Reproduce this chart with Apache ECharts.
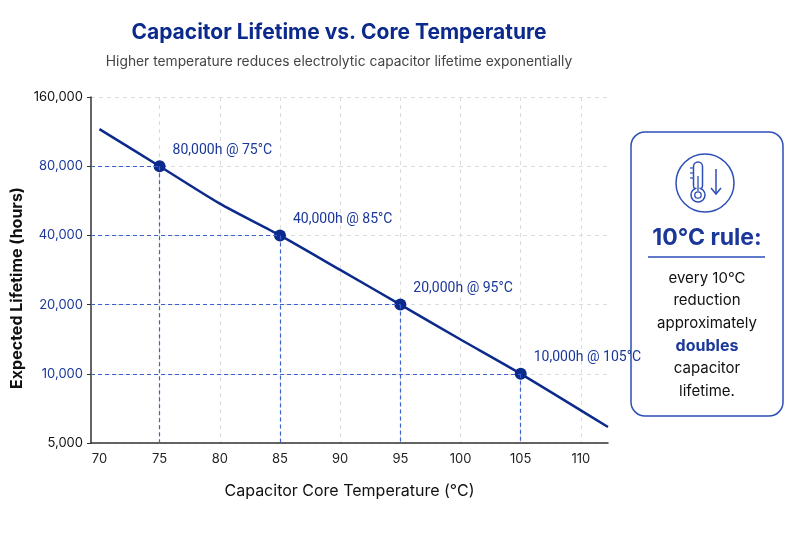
<!DOCTYPE html>
<html>
<head>
<meta charset="utf-8">
<title>Capacitor Lifetime vs. Core Temperature</title>
<script src="https://cdn.jsdelivr.net/npm/echarts@6/dist/echarts.min.js"></script>
<style>
  html, body { margin: 0; padding: 0; background: #fff; }
  #main { width: 800px; height: 533px; }
</style>
</head>
<body>
<div id="main"></div>
<script>
// ---- data ----
var curveTemps = [70, 75, 80, 85, 90, 95, 100, 105, 112.25];
var curveLife = [116000, 80000, 55000, 40000, 28300, 20000, 14100, 10000, 5870];

var keyTemps = [75, 85, 95, 105];
var keyLife = [80000, 40000, 20000, 10000];

var xTickLabels = [70, 75, 80, 85, 90, 95, 100, 105, 110];
var xGridValues = [75, 80, 85, 90, 95, 100, 105, 110];
var yTickLabels = [5000, 10000, 20000, 40000, 80000, 160000];

var ruleLines = ["every 10°C", "reduction", "approximately", "doubles", "capacitor", "lifetime."];

// ---- colours ----
var navy = "#0c2a8c";
var blue = "#1a3799";
var guide = "#3c62cf";
var boxBlue = "#2c4fb8";
var font = "Inter, Roboto, sans-serif";

var xMin = 69.3, xMax = 112.25, yMin = 5000, yMax = 160000;

function fmt(n) {
    return n.toLocaleString("en-US");
}

var chart = echarts.init(document.getElementById("main"));

// 参考线：从 y 轴到点，再从点到 x 轴
var guideData = [];
keyTemps.forEach(function (t, i) {
    guideData.push([{ coord: [xMin, keyLife[i]] }, { coord: [t, keyLife[i]] }]);
    guideData.push([{ coord: [t, keyLife[i]] }, { coord: [t, yMin] }]);
});

// 右侧说明框里的文字
var ruleTexts = ruleLines.map(function (s, i) {
    var bold = s === "doubles";
    return {
        type: "text",
        x: 707,
        y: 278 + i * 22.6,
        style: {
            text: s,
            fill: bold ? blue : "#111",
            font: (bold ? "bold 16px " : "15px ") + font,
            textAlign: "center",
            textVerticalAlign: "middle"
        }
    };
});

var option = {
    animation: false,
    backgroundColor: "#fff",
    title: [
        {
            text: "Capacitor Lifetime vs. Core Temperature",
            left: 334,
            top: 17,
            textAlign: "center",
            textStyle: { color: navy, fontSize: 21, fontWeight: "bold", fontFamily: font }
        },
        {
            text: "Higher temperature reduces electrolytic capacitor lifetime exponentially",
            left: 334,
            top: 50,
            textAlign: "center",
            textStyle: { color: "#444", fontSize: 13.8, fontWeight: "normal", fontFamily: font }
        }
    ],
    grid: {
        left: 91,
        right: 192,
        top: 97,
        bottom: 90,
        outerBoundsMode: "none"
    },
    xAxis: {
        type: "value",
        min: xMin,
        max: xMax,
        name: "Capacitor Core Temperature (°C)",
        nameLocation: "middle",
        nameGap: 40,
        nameTextStyle: { color: "#111", fontSize: 16, fontFamily: font },
        axisLine: { show: true, lineStyle: { color: "#333", width: 1.5 } },
        axisTick: { show: false, customValues: xGridValues },
        axisLabel: {
            customValues: xTickLabels,
            color: "#222",
            fontSize: 13,
            fontFamily: font,
            margin: 10
        },
        splitLine: {
            show: true,
            lineStyle: { color: "#dcdcdc", type: [4, 4], width: 1 }
        }
    },
    yAxis: {
        type: "log",
        logBase: 2,
        min: yMin,
        max: yMax,
        axisLine: { show: true, lineStyle: { color: "#333", width: 1.5 } },
        axisTick: { show: true, length: 4, customValues: yTickLabels, lineStyle: { color: "#333" } },
        axisLabel: {
            customValues: yTickLabels,
            fontSize: 13,
            fontFamily: font,
            margin: 8,
            formatter: function (v) { return fmt(v); },
            // 两端的刻度是黑色，其余是蓝色
            color: function (v) {
                return (v == yMin || v == yMax) ? "#111" : blue;
            }
        },
        splitLine: {
            show: true,
            lineStyle: { color: "#dcdcdc", type: [4, 4], width: 1 }
        }
    },
    series: [
        {
            name: "lifetime",
            type: "line",
            data: curveTemps.map(function (t, i) { return [t, curveLife[i]]; }),
            smooth: 0.25,
            showSymbol: false,
            lineStyle: { color: navy, width: 2.5 },
            markLine: {
                silent: true,
                symbol: "none",
                label: { show: false },
                lineStyle: { color: guide, type: [4, 3], width: 1.2 },
                data: guideData
            },
            z: 3
        },
        {
            name: "key points",
            type: "scatter",
            data: keyTemps.map(function (t, i) { return [t, keyLife[i]]; }),
            symbolSize: 12,
            itemStyle: { color: navy, opacity: 1 },
            label: {
                show: true,
                position: "right",
                distance: 7,
                offset: [0, -16],
                color: blue,
                fontSize: 14,
                fontFamily: "Roboto, sans-serif",
                formatter: function (p) {
                    return fmt(p.value[1]) + "h @ " + p.value[0] + "°C";
                }
            },
            z: 4
        }
    ],
    graphic: [
        // y 轴标题（比绘图区中心略低）
        {
            type: "text",
            x: 17,
            y: 288,
            rotation: Math.PI / 2,
            style: {
                text: "Expected Lifetime (hours)",
                fill: "#111",
                font: "bold 16px " + font,
                textAlign: "center",
                textVerticalAlign: "middle"
            }
        },
        {
            type: "rect",
            shape: { x: 631, y: 132, width: 152, height: 284, r: 14 },
            style: { fill: "#fff", stroke: boxBlue, lineWidth: 1.5 }
        },
        // 温度计图标
        {
            type: "circle",
            shape: { cx: 705, cy: 183, r: 29 },
            style: { fill: "none", stroke: boxBlue, lineWidth: 1.5 }
        },
        {
            type: "rect",
            shape: { x: 693.5, y: 162, width: 9, height: 28, r: 4.5 },
            style: { fill: "#fff", stroke: boxBlue, lineWidth: 1.5 }
        },
        {
            type: "circle",
            shape: { cx: 698, cy: 195, r: 7 },
            style: { fill: "#fff", stroke: boxBlue, lineWidth: 1.5 }
        },
        {
            type: "rect",
            shape: { x: 696.5, y: 176, width: 3, height: 16 },
            style: { fill: "#fff", stroke: "none" }
        },
        {
            type: "circle",
            shape: { cx: 698, cy: 195, r: 3.2 },
            style: { fill: "none", stroke: boxBlue, lineWidth: 1.3 }
        },
        {
            type: "line",
            shape: { x1: 698, y1: 176, x2: 698, y2: 191 },
            style: { stroke: boxBlue, lineWidth: 1.3 }
        },
        {
            type: "polyline",
            shape: { points: [[690, 168], [693, 168]] },
            style: { stroke: boxBlue, lineWidth: 1.2 }
        },
        {
            type: "polyline",
            shape: { points: [[690, 173], [693, 173]] },
            style: { stroke: boxBlue, lineWidth: 1.2 }
        },
        {
            type: "polyline",
            shape: { points: [[690, 178], [693, 178]] },
            style: { stroke: boxBlue, lineWidth: 1.2 }
        },
        {
            type: "line",
            shape: { x1: 716, y1: 169, x2: 716, y2: 194 },
            style: { stroke: boxBlue, lineWidth: 1.5 }
        },
        {
            type: "polyline",
            shape: { points: [[711, 188], [716, 194], [721, 188]] },
            style: { stroke: boxBlue, lineWidth: 1.5, fill: "none" }
        },
        {
            type: "text",
            x: 707,
            y: 238,
            style: {
                text: "10°C rule:",
                fill: blue,
                font: "bold 23px " + font,
                textAlign: "center",
                textVerticalAlign: "middle"
            }
        },
        {
            type: "line",
            shape: { x1: 648, y1: 257, x2: 765, y2: 257 },
            style: { stroke: boxBlue, lineWidth: 1.5 }
        }
    ].concat(ruleTexts)
};

chart.setOption(option);

window.addEventListener("resize", function () {
    chart.resize();
});
</script>
</body>
</html>
